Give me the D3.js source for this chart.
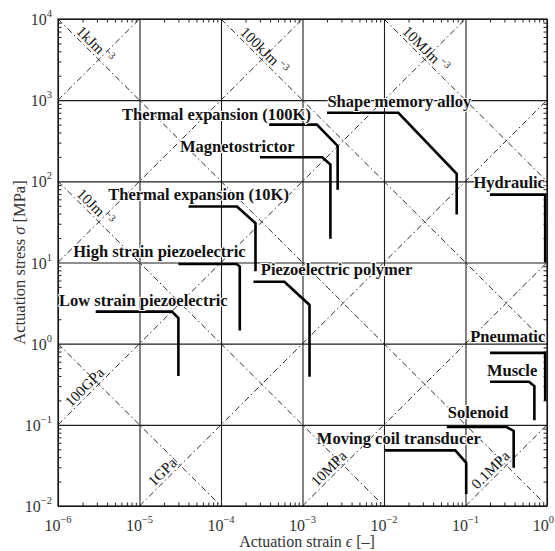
<!DOCTYPE html>
<html><head><meta charset="utf-8">
<script src="https://cdn.jsdelivr.net/npm/d3@7"></script>
<style>body{margin:0;background:#fff}svg{display:block}</style>
</head><body>
<svg id="chart" width="555" height="551"></svg>
<script>
// ---------- data ----------
const strainDomain = [1e-6, 1];
const stressDomain = [1e-2, 1e4];
const majorStrain = [1e-6, 1e-5, 1e-4, 1e-3, 1e-2, 1e-1, 1];
const strainExp = ["−6", "−5", "−4", "−3", "−2", "−1", "0"];
const majorStress = [1e-2, 1e-1, 1, 10, 100, 1e3, 1e4];
const stressExp = ["−2", "−1", "0", "1", "2", "3", "4"];

const actuators = ["Thermal expansion (100K)", "Magnetostrictor", "Shape memory alloy", "Hydraulic",
  "Thermal expansion (10K)", "High strain piezoelectric", "Low strain piezoelectric", "Piezoelectric polymer",
  "Pneumatic", "Muscle", "Solenoid", "Moving coil transducer"];
const actStrain = [
  [3.9e-4, 1.5e-3, 2.7e-3, 2.7e-3],
  [3.0e-4, 1.75e-3, 2.2e-3, 2.2e-3],
  [2.0e-3, 1.5e-2, 7.8e-2, 7.8e-2],
  [0.2, 0.95, 0.95],
  [4.0e-5, 1.57e-4, 2.65e-4, 2.65e-4],
  [3.0e-5, 1.56e-4, 1.7e-4, 1.7e-4],
  [2.9e-6, 2.5e-5, 3.0e-5, 3.0e-5],
  [2.5e-4, 6.0e-4, 1.22e-3, 1.22e-3],
  [0.2, 0.95, 0.95],
  [0.2, 0.6, 0.7, 0.7],
  [0.059, 0.32, 0.39, 0.39],
  [0.0103, 0.075, 0.102, 0.102]
];
const actStress = [
  [500, 500, 273, 79],
  [198, 198, 161, 19.6],
  [700, 700, 124, 39],
  [68.5, 68.5, 10],
  [49, 49, 30.5, 7.8],
  [9.6, 9.6, 8.9, 1.45],
  [2.48, 2.48, 2.07, 0.40],
  [5.8, 5.8, 3.0, 0.39],
  [0.77, 0.77, 0.198],
  [0.34, 0.34, 0.30, 0.114],
  [0.094, 0.094, 0.084, 0.0297],
  [0.0484, 0.0484, 0.034, 0.0141]
];
// label anchors (left end of text baseline), in data units
const labelStrain = [6.11e-6, 3.14e-5, 2.02e-3, 0.125, 4.14e-6, 1.54e-6, 1.03e-6, 3.08e-4, 0.114, 0.183, 0.0607, 1.50e-3];
const labelStress = [574, 227, 815, 83.8, 59.2, 11.8, 2.90, 7.01, 1.045, 0.397, 0.121, 0.0579];

// reference lines: constant energy density (sigma*eps, MPa) and constant modulus (sigma/eps, MPa)
const energyProducts = [1e-6, 1e-4, 1e-2, 1, 1e2];
const modulusRatios = [1e-1, 1e1, 1e3, 1e5, 1e7, 1e9];
const energyLabelText = ["10Jm", "1kJm", "100kJm", "10MJm"];
const energyLabelProduct = [1e-4, 1e-2, 1, 1e2];
const energyLabelStrain = [1.55e-6, 1.54e-6, 1.58e-4, 1.54e-2];
const modulusLabelText = ["100GPa", "1GPa", "10MPa", "0.1MPa"];
const modulusLabelRatio = [1e5, 1e3, 1e1, 1e-1];
const modulusLabelStrain = [1.53e-6, 1.60e-5, 1.60e-3, 0.148];

// ---------- chart ----------
const L = 58, R = 547, T = 19, B = 506;
const svg = d3.select("#chart");
const x = d3.scaleLog().domain(strainDomain).range([L, R]);
const y = d3.scaleLog().domain(stressDomain).range([B, T]);
const serif = "'Liberation Serif','Times New Roman',serif";

svg.append("defs").append("clipPath").attr("id", "plotclip")
  .append("rect").attr("x", L).attr("y", T).attr("width", R - L).attr("height", B - T);

// minor tick values
const minorStrain = [], minorStress = [];
for (let e = -6; e < 0; e++) for (let k = 2; k <= 9; k++) minorStrain.push(k * Math.pow(10, e));
for (let e = -2; e < 4; e++) for (let k = 2; k <= 9; k++) minorStress.push(k * Math.pow(10, e));

// grid
const gx = svg.append("g").attr("transform", `translate(0,${B})`)
  .call(d3.axisBottom(x).tickValues(majorStrain).tickSize(-(B - T)).tickFormat(""));
const gy = svg.append("g").attr("transform", `translate(${L},0)`)
  .call(d3.axisLeft(y).tickValues(majorStress).tickSize(-(R - L)).tickFormat(""));
[gx, gy].forEach(g => { g.select(".domain").remove(); g.selectAll("line").attr("stroke", "#1e1e1e").attr("stroke-width", 1.1); });

// diagonal reference lines
const diag = svg.append("g").attr("clip-path", "url(#plotclip)");
const line = d3.line().x(d => x(d[0])).y(d => y(d[1]));
energyProducts.forEach(p => {
  const e0 = Math.max(strainDomain[0], p / stressDomain[1]);
  const e1 = Math.min(strainDomain[1], p / stressDomain[0]);
  if (e1 <= e0) return;
  diag.append("path").attr("d", line([[e0, p / e0], [e1, p / e1]]))
    .attr("fill", "none").attr("stroke", "#111").attr("stroke-width", 0.9)
    .attr("stroke-dasharray", "6,3,1.5,3");
});
modulusRatios.forEach(r => {
  const e0 = Math.max(strainDomain[0], stressDomain[0] / r);
  const e1 = Math.min(strainDomain[1], stressDomain[1] / r);
  if (e1 <= e0) return;
  diag.append("path").attr("d", line([[e0, r * e0], [e1, r * e1]]))
    .attr("fill", "none").attr("stroke", "#111").attr("stroke-width", 0.9)
    .attr("stroke-dasharray", "6,3,1.5,3");
});

// diagonal labels
function diagLabel(text, ex, sx, ex2, sx2, sup, d) {
  const px = x(ex), py = y(sx);
  const ang = Math.atan2(y(sx2) - py, x(ex2) - px) * 180 / Math.PI;
  const t = svg.append("text")
    .attr("transform", `translate(${px},${py}) rotate(${ang})`)
    .attr("x", 0).attr("y", -d)
    .attr("font-family", serif).attr("font-size", 15).attr("fill", "#111");
  t.append("tspan").text(text);
  if (sup) t.append("tspan").attr("dx", 2).attr("dy", -6).attr("font-size", 10).text(sup);
}
energyLabelText.forEach((s, i) => {
  const p = energyLabelProduct[i], e = energyLabelStrain[i];
  diagLabel(s, e, p / e, e * 10, p / (e * 10), "−3", 3);
});
modulusLabelText.forEach((s, i) => {
  const r = modulusLabelRatio[i], e = modulusLabelStrain[i];
  diagLabel(s, e, r * e, e * 10, r * e * 10, null, 3);
});

// frame
svg.append("rect").attr("x", L).attr("y", T).attr("width", R - L).attr("height", B - T)
  .attr("fill", "none").attr("stroke", "#111").attr("stroke-width", 1.2);

// minor ticks on all four sides (inward)
function tickAxis(axis, tr, vals, size) {
  const g = svg.append("g").attr("transform", tr)
    .call(axis.tickValues(vals).tickSize(size).tickFormat(""));
  g.select(".domain").remove();
  g.selectAll("line").attr("stroke", "#222").attr("stroke-width", 1);
}
tickAxis(d3.axisBottom(x), `translate(0,${B})`, minorStrain, -3.5);
tickAxis(d3.axisTop(x), `translate(0,${T})`, minorStrain, -3.5);
tickAxis(d3.axisLeft(y), `translate(${L},0)`, minorStress, -3.5);
tickAxis(d3.axisRight(y), `translate(${R},0)`, minorStress, -3.5);

// tick labels
majorStrain.forEach((v, i) => {
  const last = i === majorStrain.length - 1;
  const t = svg.append("text").attr("x", last ? 554 : x(v)).attr("y", 531)
    .attr("text-anchor", last ? "end" : "middle")
    .attr("font-family", serif).attr("font-size", 16).attr("fill", "#333");
  t.append("tspan").text("10");
  t.append("tspan").attr("dy", -8).attr("font-size", 10.5).text(strainExp[i]);
});
majorStress.forEach((v, i) => {
  const t = svg.append("text").attr("x", 52).attr("y", y(v) + 6).attr("text-anchor", "end")
    .attr("font-family", serif).attr("font-size", 16).attr("fill", "#333");
  t.append("tspan").text("10");
  t.append("tspan").attr("dy", -8).attr("font-size", 10.5).text(stressExp[i]);
});

// axis titles
const xt = svg.append("text").attr("x", 307).attr("y", 547).attr("text-anchor", "middle")
  .attr("font-family", serif).attr("font-size", 16).attr("fill", "#333");
xt.append("tspan").text("Actuation strain ");
xt.append("tspan").attr("font-style", "italic").text("ϵ");
xt.append("tspan").text(" [–]");
const yt = svg.append("text").attr("transform", `translate(25,${(T + B) / 2}) rotate(-90)`)
  .attr("text-anchor", "middle").attr("font-family", serif).attr("font-size", 16.5).attr("fill", "#333");
yt.append("tspan").text("Actuation stress ");
yt.append("tspan").attr("font-style", "italic").text("σ");
yt.append("tspan").text(" [MPa]");

// actuator curves
const act = svg.append("g");
actuators.forEach((name, i) => {
  const pts = actStrain[i].map((e, j) => [e, actStress[i][j]]);
  act.append("path").attr("d", line(pts)).attr("fill", "none")
    .attr("stroke", "#000").attr("stroke-width", 2.6).attr("stroke-linejoin", "miter");
});

// actuator labels
actuators.forEach((name, i) => {
  svg.append("text").attr("x", x(labelStrain[i])).attr("y", y(labelStress[i]))
    .attr("font-family", serif).attr("font-weight", "bold").attr("font-size", 16.5)
    .attr("fill", "#111").attr("stroke", "#fff").attr("stroke-width", 2).attr("paint-order", "stroke")
    .text(name);
});
</script>
</body></html>
